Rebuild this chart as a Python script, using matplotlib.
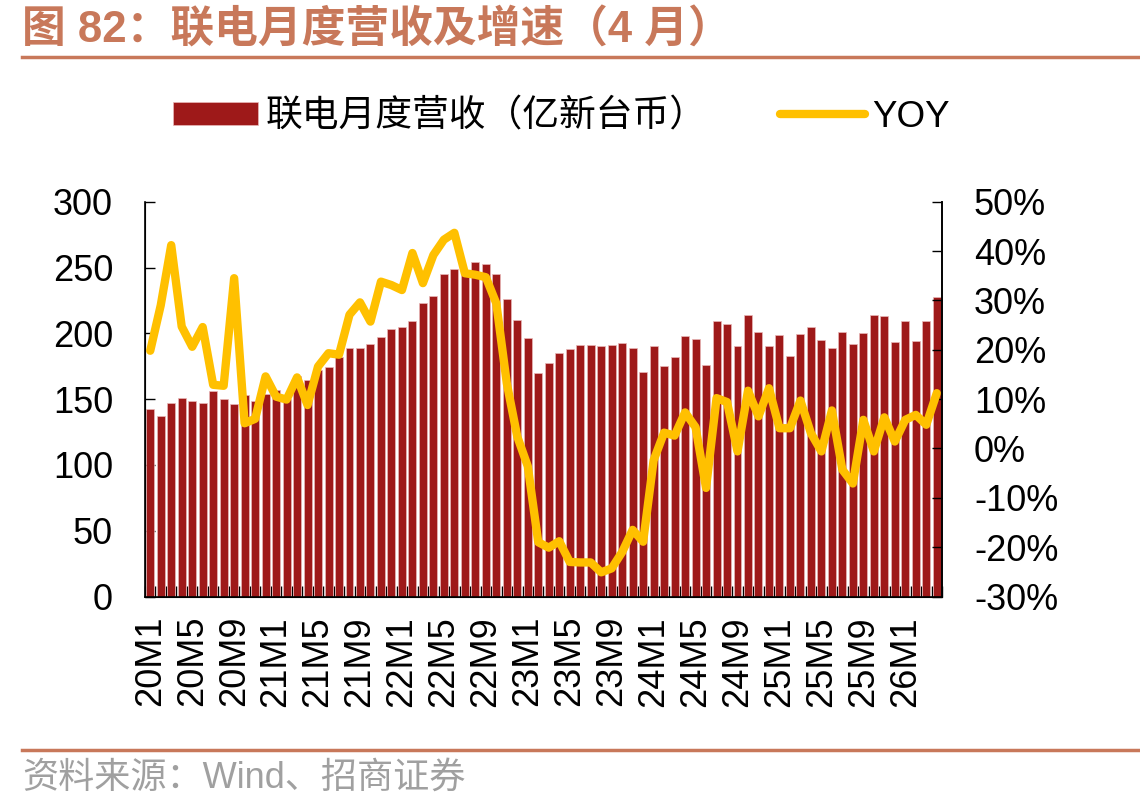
import matplotlib
matplotlib.use("Agg")
from matplotlib import pyplot as plt
from matplotlib.lines import Line2D
from matplotlib.ticker import FuncFormatter
import numpy as np

plt.rcParams['font.family'] = ['Liberation Sans', 'Noto Sans CJK SC']

# monthly categories 20M1 .. 26M4
years = [20, 21, 22, 23, 24, 25, 26]
months = ['%dM%d' % (y, m) for y in years for m in range(1, 13)][:76]

# 联电月度营收（亿新台币）
revenue = [142.1, 136.8, 146.7, 151.2, 148.2, 146.7, 155.8, 149.7, 146.2, 153.0, 148.2, 153.8,
           157.0, 150.3, 167.7, 164.6, 172.0, 174.5, 182.0, 189.1, 188.6, 192.1, 197.4, 203.5,
           205.0, 209.0, 222.7, 228.5, 245.2, 249.1, 246.0, 254.2, 252.7, 244.7, 226.2, 210.3,
           196.7, 170.2, 177.7, 185.3, 188.4, 191.4, 191.4, 190.6, 191.4, 192.7, 189.1, 170.9,
           190.6, 175.5, 182.3, 198.2, 195.9, 176.2, 209.5, 207.0, 190.6, 213.9, 201.0, 190.4,
           198.7, 182.8, 199.5, 204.8, 194.9, 188.9, 201.0, 191.9, 200.2, 213.9, 213.1, 193.4,
           209.5, 194.2, 209.5, 227.5]

# YOY (%)
yoy = [19.8, 29.0, 41.2, 24.7, 20.6, 24.6, 12.9, 12.7, 34.5, 5.1, 6.0, 14.6,
       10.5, 9.9, 14.4, 8.8, 16.6, 19.3, 19.0, 27.1, 29.6, 25.7, 33.8, 33.1,
       32.1, 39.6, 33.5, 39.2, 42.3, 43.7, 35.5, 35.2, 34.7, 29.4, 13.2, 2.4,
       -3.6, -19.0, -20.1, -18.8, -23.0, -23.1, -23.1, -25.1, -24.3, -21.0, -16.5, -18.9,
       -2.4, 3.2, 2.6, 7.3, 4.3, -8.0, 10.2, 9.4, -0.6, 11.7, 6.5, 12.2,
       4.1, 4.1, 9.7, 3.1, -0.6, 7.7, -4.3, -7.1, 5.8, -0.6, 6.3, 1.4,
       5.8, 6.8, 4.8, 11.2]

bar_label = '联电月度营收（亿新台币）'
line_label = 'YOY'
title = '图 82：联电月度营收及增速（4 月）'
source = '资料来源：Wind、招商证券'

accent = '#C8785A'

fig = plt.figure(figsize=(11.4, 8.11), dpi=100)
ax = fig.add_axes([145/1140, 1-596.5/811, 797/1140, (596.5-201.7)/811])

x = np.arange(len(months))
bars = ax.bar(x, revenue, width=0.76, color='#9E1919', edgecolor='#E8B8B8', linewidth=0.5, zorder=2)
ax.set_xlim(-0.5, len(months)-0.5)
ax.set_ylim(0, 300)
ax.set_yticks(range(0, 301, 50))

ax.set_xticks(x[::4])
ax.set_xticklabels(months[::4], rotation=90)
ax.set_xticks(np.arange(-0.5, len(months)), minor=True)
ax.tick_params(axis='x', which='major', length=0, labelsize=26, pad=14)
ax.tick_params(axis='x', which='minor', direction='in', length=8, width=1)
ax.tick_params(axis='y', direction='in', length=7, width=1, labelsize=26, pad=23)
ax.spines['top'].set_visible(False)
for s in ['left', 'right', 'bottom']:
    ax.spines[s].set_linewidth(1.2)

ax2 = ax.twinx()
line, = ax2.plot(x, yoy, color='#FFC000', lw=6, solid_joinstyle='round', solid_capstyle='round', zorder=3)
ax2.set_ylim(-30, 50)
ax2.set_yticks(range(-30, 51, 10))
ax2.yaxis.set_major_formatter(FuncFormatter(lambda v, p: '%d%%' % v))
ax2.tick_params(axis='y', direction='in', length=7, width=1, labelsize=26, pad=23)
ax2.spines['top'].set_visible(False)
ax2.spines['right'].set_linewidth(1.2)

fig.legend([bars, line], [bar_label, line_label], loc='center',
           bbox_to_anchor=(0.4925, 1-117/811), ncol=2, frameon=False, fontsize=26.5,
           handlelength=2.3, handleheight=0.6, handletextpad=0.2, columnspacing=2.0)

# title, rules and source
fig.text(22/1140, 1-30/811, title, fontsize=31.5, fontweight='bold', color=accent, va='center')
fig.add_artist(Line2D([22/1140, 1], [1-57/811]*2, color=accent, lw=2.5))
fig.add_artist(Line2D([22/1140, 1], [1-750/811]*2, color=accent, lw=2.5))
fig.text(22/1140, 1-778/811, source, fontsize=26, color='#A0A0A0', va='center')

fig.savefig('out.png', dpi=100)
